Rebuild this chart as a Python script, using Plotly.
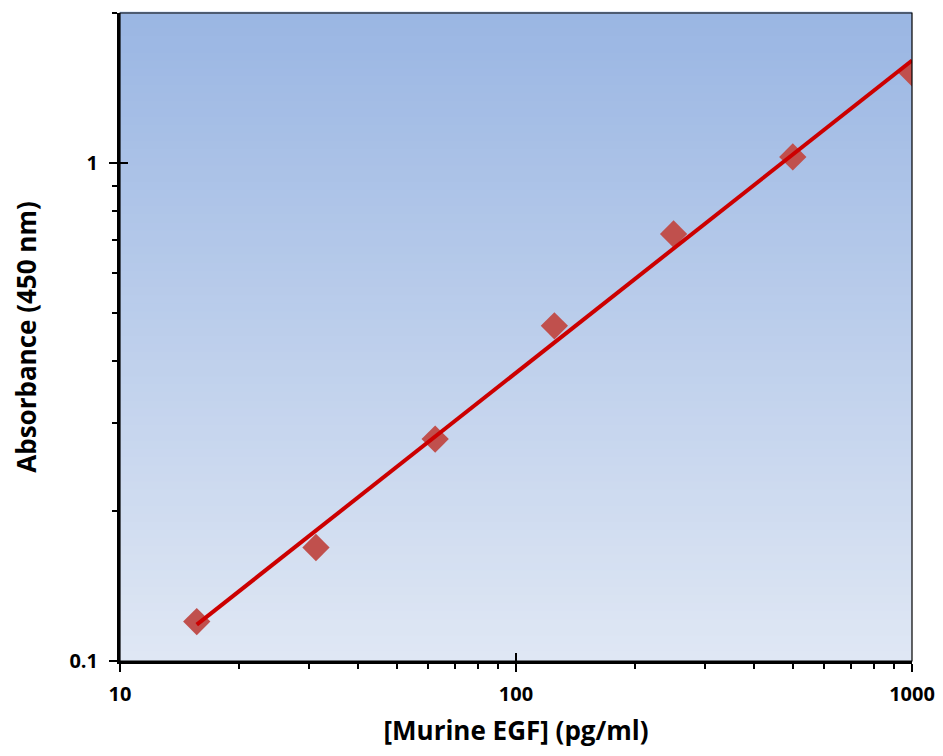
import numpy as np
import plotly.graph_objects as go

# Data
concentration = [15.625, 31.25, 62.5, 125, 250, 500, 1000]
absorbance = [0.120, 0.169, 0.279, 0.471, 0.720, 1.028, 1.517]
x_major = [10, 100, 1000]
x_major_text = ["10", "100", "1000"]
y_major = [0.1, 1]
y_major_text = ["0.1", "1"]
x_minor = [20, 30, 40, 50, 60, 70, 80, 90, 200, 300, 400, 500, 600, 700, 800, 900]
y_minor = [0.2, 0.3, 0.4, 0.5, 0.6, 0.7, 0.8, 0.9, 2]

# power-law fit (linear in log-log)
lx = np.log10(concentration)
ly = np.log10(absorbance)
slope, intercept = np.polyfit(lx, ly, 1)
fit_x = np.array([concentration[0], concentration[-1]])
fit_y = 10 ** (intercept + slope * np.log10(fit_x))

FONT = "Open Sans"
fig = go.Figure()

fig.add_trace(go.Scatter(
    x=concentration, y=absorbance, mode="markers",
    marker=dict(symbol="diamond", size=21, color="#c0504d", line=dict(width=0)),
    showlegend=False, hoverinfo="skip"))
fig.add_trace(go.Scatter(
    x=fit_x, y=fit_y, mode="lines",
    line=dict(color="#cc0000", width=4), showlegend=False, hoverinfo="skip"))

# vertical gradient background
top = np.array([154, 182, 227])
bot = np.array([223, 231, 244])
n = 80
shapes = []
for i in range(n):
    t = i / (n - 1)
    c = top * (1 - t) + bot * t
    shapes.append(dict(type="rect", xref="x domain", yref="y domain",
                       x0=0, x1=1, y0=1 - (i + 1) / n, y1=1 - i / n + 0.002,
                       fillcolor="rgb(%d,%d,%d)" % tuple(c.round()),
                       line=dict(width=0), layer="below"))
# thin border for top/right
shapes.append(dict(type="rect", xref="x domain", yref="y domain",
                   x0=0, x1=1, y0=0, y1=1, line=dict(color="black", width=1.2),
                   fillcolor="rgba(0,0,0,0)", layer="above"))

xr = [1, 3]
yr = [-1, float(np.log10(2))]

tickfont = dict(family=FONT, size=20, color="black", weight="bold")
titlefont = dict(family=FONT, size=26, color="black", weight="bold")

fig.update_layout(
    width=927, height=740,
    margin=dict(l=112, r=23, t=5, b=87, autoexpand=False),
    paper_bgcolor="white", plot_bgcolor="white",
    shapes=shapes,
    font=dict(family=FONT, color="black"),
    xaxis=dict(type="log", range=xr, tickvals=x_major, ticktext=x_major_text,
               ticks="outside", ticklen=8, tickwidth=2, tickcolor="black",
               tickfont=tickfont, automargin=False, ticklabelstandoff=5,
               showline=True, linecolor="black", linewidth=3,
               showgrid=False, zeroline=False,
               minor=dict(tickvals=x_minor, ticks="outside", ticklen=5,
                          tickwidth=2, tickcolor="black", showgrid=False),
               title=dict(text="[Murine EGF] (pg/ml)", font=titlefont,
                          standoff=23)),
    yaxis=dict(type="log", range=yr, tickvals=y_major, ticktext=y_major_text,
               ticks="outside", ticklen=8, tickwidth=2, tickcolor="black",
               tickfont=tickfont, automargin=False, ticklabelstandoff=7,
               showline=True, linecolor="black", linewidth=3,
               showgrid=False, zeroline=False,
               minor=dict(tickvals=y_minor, ticks="outside", ticklen=5,
                          tickwidth=2, tickcolor="black", showgrid=False),
               title=dict(text="Absorbance (450 nm)", font=titlefont,
                          standoff=32)),
    xaxis2=dict(type="log", range=xr, overlaying="x", side="bottom",
                tickvals=x_major, ticks="inside", ticklen=8, tickwidth=2,
                tickcolor="black", showticklabels=False, showgrid=False,
                zeroline=False, showline=False, anchor="y"),
    yaxis2=dict(type="log", range=yr, overlaying="y", side="left",
                tickvals=y_major, ticks="inside", ticklen=8, tickwidth=2,
                tickcolor="black", showticklabels=False, showgrid=False,
                zeroline=False, showline=False, anchor="x"),
)
# dummy trace to activate overlay axes
fig.add_trace(go.Scatter(x=[concentration[0]], y=[absorbance[0]], xaxis="x2", yaxis="y2",
                         mode="markers", marker=dict(opacity=0), showlegend=False,
                         hoverinfo="skip"))

fig.write_html("out.html")
